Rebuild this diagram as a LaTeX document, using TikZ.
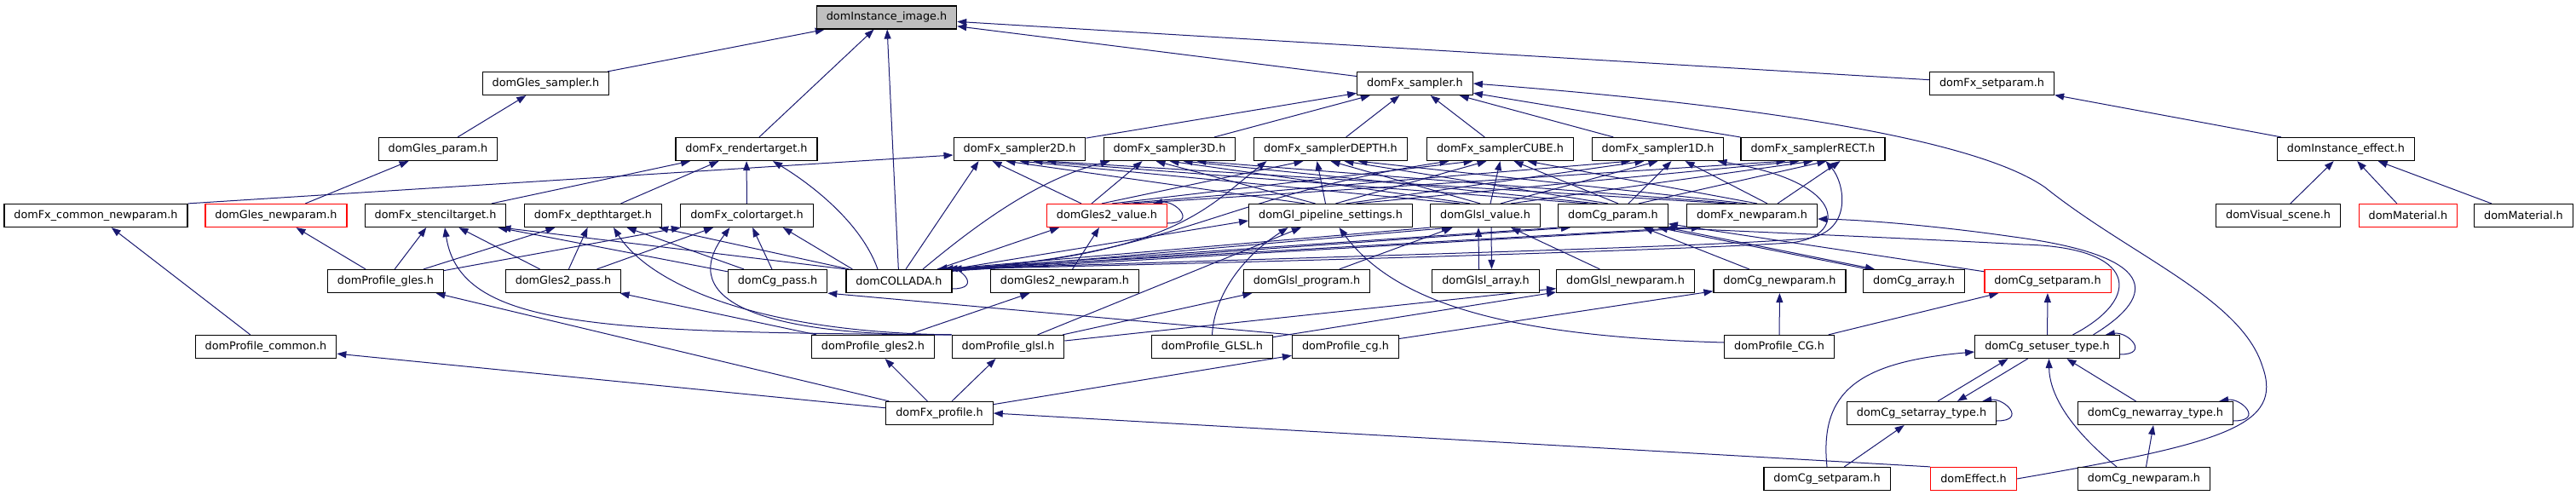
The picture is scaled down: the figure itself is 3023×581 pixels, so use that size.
\documentclass[tikz,border=0pt]{standalone}
\usepackage{fontspec}
\setmainfont{DejaVu Sans}
\usepackage{xcolor}
\usepackage{tikz}
\usetikzlibrary{positioning, arrows.meta, backgrounds}
\definecolor{edgeblue}{HTML}{191970}
\definecolor{selgray}{HTML}{BFBFBF}
\newcommand{\selfloop}[1]{%
  \draw[dep] ([yshift=-9pt]#1.east) .. controls +(36pt,0pt) and +(26pt,4pt) .. ([xshift=-17pt]#1.north east);}

\begin{document}
\begin{tikzpicture}[
    x=1pt, y=-1pt,
    file/.style={draw, line width=1.2pt, fill=white, minimum height=27pt, inner xsep=11.5pt, inner ysep=0pt, font=\fontsize{12.8pt}{15pt}\selectfont},
    trunc/.style={file, draw=red},
    sel/.style={file, fill=selgray},
    dep/.style={draw=edgeblue, line width=1pt, -{Triangle[length=11pt,width=8pt]}}
]
\useasboundingbox (0,0) rectangle (3023,581);

\node[sel] (I) at (1040.5,20.5) {domInstance\_image.h};

\node[file] (GS) at (640.5,98) {domGles\_sampler.h};
\node[file] (FS) at (1660.5,98) {domFx\_sampler.h};
\node[file] (SETP) at (2337.5,98) {domFx\_setparam.h};

\node[file] (GPAR) at (514,175) {domGles\_param.h};
\node[file] (R) at (876,175) {domFx\_rendertarget.h};
\node[file] (S2D) at (1196.5,175) {domFx\_sampler2D.h};
\node[file] (S3D) at (1372.5,175) {domFx\_sampler3D.h};
\node[file] (SDEPTH) at (1561.5,175) {domFx\_samplerDEPTH.h};
\node[file] (SCUBE) at (1760.5,175) {domFx\_samplerCUBE.h};
\node[file] (S1D) at (1945.5,175) {domFx\_sampler1D.h};
\node[file] (SRECT) at (2127.5,175) {domFx\_samplerRECT.h};
\node[file] (IEFF) at (2753,175) {domInstance\_effect.h};

\node[file] (FCN) at (112.5,253) {domFx\_common\_newparam.h};
\node[trunc] (GNP) at (324,253) {domGles\_newparam.h};
\node[file] (ST) at (511,253) {domFx\_stenciltarget.h};
\node[file] (DT) at (696,253) {domFx\_depthtarget.h};
\node[file] (CT) at (876.5,253) {domFx\_colortarget.h};
\node[trunc] (V2) at (1299,253) {domGles2\_value.h};
\node[file] (GP) at (1561.5,253) {domGl\_pipeline\_settings.h};
\node[file] (GV) at (1743,253) {domGlsl\_value.h};
\node[file] (CP) at (1893,253) {domCg\_param.h};
\node[file] (FN) at (2056,253) {domFx\_newparam.h};
\node[file] (VS) at (2673.5,253) {domVisual\_scene.h};
\node[trunc] (MATR) at (2826,253) {domMaterial.h};
\node[file] (MAT) at (2961.5,253) {domMaterial.h};

\node[file] (PGLES) at (452.5,330) {domProfile\_gles.h};
\node[file] (G2P) at (661,330) {domGles2\_pass.h};
\node[file] (CGP) at (912.5,330) {domCg\_pass.h};
\node[file] (COL) at (1055,330) {domCOLLADA.h};
\node[file] (G2NP) at (1249.5,330) {domGles2\_newparam.h};
\node[file] (GLP) at (1533.5,330) {domGlsl\_program.h};
\node[file] (GLA) at (1743.5,330) {domGlsl\_array.h};
\node[file] (GLNP) at (1907.5,330) {domGlsl\_newparam.h};
\node[file] (CNP) at (2088.5,330) {domCg\_newparam.h};
\node[file] (CA) at (2246,330) {domCg\_array.h};
\node[trunc] (CSPR) at (2403,330) {domCg\_setparam.h};

\node[file] (PCOM) at (312,407) {domProfile\_common.h};
\node[file] (PG2) at (1024.5,407) {domProfile\_gles2.h};
\node[file] (PGL) at (1183,407) {domProfile\_glsl.h};
\node[file] (PGLSL) at (1422.5,407) {domProfile\_GLSL.h};
\node[file] (PCG) at (1579,407) {domProfile\_cg.h};
\node[file] (PCGU) at (2088,407) {domProfile\_CG.h};
\node[file] (SUT) at (2402.5,407) {domCg\_setuser\_type.h};

\node[file] (FP) at (1102.5,485) {domFx\_profile.h};
\node[file] (SAT) at (2255,485) {domCg\_setarray\_type.h};
\node[file] (NAT) at (2529.5,485) {domCg\_newarray\_type.h};

\node[file] (CSP) at (2144,562) {domCg\_setparam.h};
\node[trunc] (EFF) at (2316,562) {domEffect.h};
\node[file] (CNP2) at (2516,562) {domCg\_newparam.h};

\begin{pgfonlayer}{background}
\foreach \a/\b in {GS/I, FS/I, SETP/I, R/I, COL/I, GPAR/GS, GNP/GPAR, PGLES/GNP, PCOM/FCN,
    S2D/FS, S3D/FS, SDEPTH/FS, SCUBE/FS, S1D/FS, SRECT/FS, IEFF/SETP, VS/IEFF, MATR/IEFF, MAT/IEFF,
    ST/R, DT/R, CT/R, PGLES/ST, PGLES/DT, PGLES/CT, G2P/ST, G2P/DT, G2P/CT, CGP/ST, CGP/DT, CGP/CT,
    G2NP/V2, GLP/GV, GLNP/GV, CNP/CP, CSPR/CP, SUT/CSPR, PCGU/CNP, PCGU/CSPR, PCG/CNP,
    PGL/GLP, PGL/GP, PGL/GLNP, PGLSL/GLNP, PG2/G2NP, PG2/G2P,
    FP/PG2, FP/PGL, FP/PGLES, FP/PCOM, FP/PCG, NAT/SUT, CNP2/NAT, CSP/SAT}
  \draw[dep] (\a) -- (\b);

\foreach \src [count=\i] in {V2,GP,GV,CP,FN}
  \foreach \dst [count=\j] in {S2D,S3D,SDEPTH,SCUBE,S1D,SRECT}
    \draw[dep] ([xshift={(\j-3.5)*12pt}]\src.north) -- ([xshift={(\i-3)*16pt}]\dst.south);

\draw[dep] (FCN.north east) -- ([yshift=-7pt]S2D.west);
\draw[dep] ([xshift=-25pt]COL.north) .. controls (1010,260) and (950,215) .. ([xshift=31pt]R.south);
\draw[dep] (COL.north west) -- ([xshift=-6pt]ST.south east);
\draw[dep] ([xshift=4pt]COL.north west) -- ([xshift=-4pt]DT.south east);
\draw[dep] ([xshift=8pt]COL.north west) -- ([xshift=-36pt]CT.south east);
\draw[dep] ([xshift=8pt]COL.north) -- ([xshift=-48pt]S2D.south);
\draw[dep] ([xshift=28pt]COL.north) .. controls (1150,260) and (1220,210) .. ([xshift=-70pt]S3D.south);
\draw[dep] ([xshift=45pt]COL.north) -- ([xshift=-56pt]V2.south);
\draw[dep] (COL.north east) -- ([yshift=-6pt]GP.west);
\draw[dep] ([yshift=-2pt]COL.north east) -- ([xshift=-40pt]GV.south);
\draw[dep] ([yshift=-2pt]COL.north east) -- ([xshift=-50pt]CP.south);
\draw[dep] ([yshift=-2pt]COL.north east) -- ([xshift=-60pt]FN.south);
\draw[dep] (COL.north east) .. controls (1380,300) and (1420,240) .. ([xshift=-75pt]SDEPTH.south);
\draw[dep] (COL.north east) .. controls (1380,300) and (1430,230) .. ([xshift=-60pt]SCUBE.south);
\draw[dep] (COL.north east) .. controls (1600,305) and (2000,292) .. (2100,285)
    .. controls (2165,280) and (2175,215) .. ([xshift=-8pt]S1D.south east);
\draw[dep] (COL.north east) .. controls (1600,300) and (2000,290) .. (2120,280)
    .. controls (2175,272) and (2165,215) .. ([xshift=15pt]SRECT.south);
\draw[dep] (GV.south west) -- ([xshift=-10pt]COL.north east);
\draw[dep] (CP.south west) -- ([xshift=-5pt]COL.north east);
\draw[dep] (FN.south west) -- (COL.north east);

\draw[dep] ([xshift=-8pt]GLA.north) -- ([xshift=-8pt]GV.south);
\draw[dep] ([xshift=7pt]GV.south) -- ([xshift=7pt]GLA.north);
\draw[dep] ([xshift=6pt]CA.north west) -- ([xshift=-12pt]CP.south east);
\draw[dep] ([xshift=-2pt]CP.south east) -- ([xshift=14pt]CA.north west);

\draw[dep] (PGL.north west) .. controls (700,390) and (540,385) .. ([xshift=11pt]ST.south);
\draw[dep] (PGL.north west) .. controls (880,390) and (760,330) .. ([xshift=24pt]DT.south);
\draw[dep] (PGL.north west) .. controls (900,395) and (790,355) .. ([xshift=-20pt]CT.south);
\draw[dep] (PGLSL.north) .. controls (1425,345) and (1460,300) .. ([xshift=-50pt]GP.south);
\draw[dep] ([yshift=5pt]PCGU.west) .. controls (1780,395) and (1640,360) .. ([xshift=10pt]GP.south);
\draw[dep] (PCG.north west) -- (CGP.south east);
\draw[dep] (EFF.north west) -- (FP.east);
\draw[dep] (EFF.east) .. controls (2610,520) and (2680,500) .. (2655,430)
    .. controls (2630,350) and (2500,300) .. (2400,220)
    .. controls (2300,150) and (1950,115) .. (FS.east);

\draw[dep] ([xshift=30pt]SUT.north) .. controls (2515,350) and (2510,290) .. (2374,287)
    .. controls (2250,280) and (2050,272) .. ([xshift=-3pt]CP.south east);
\draw[dep] ([xshift=54pt]SUT.north) .. controls (2535,345) and (2530,300) .. (2363,278)
    .. controls (2280,266) and (2190,258) .. ([yshift=-4pt]FN.east);
\draw[dep] ([xshift=19pt]SAT.north) -- ([xshift=-46pt]SUT.south);
\draw[dep] ([xshift=-23pt]SUT.south) -- ([xshift=42pt]SAT.north);
\draw[dep] (CSP.north) .. controls (2135,460) and (2180,425) .. ([yshift=-6pt]SUT.west);
\draw[dep] ([xshift=-32pt]CNP2.north) .. controls (2425,500) and (2405,460) .. ([xshift=2pt]SUT.south);

\selfloop{V2}
\selfloop{COL}
\selfloop{SUT}
\selfloop{SAT}
\selfloop{NAT}
\end{pgfonlayer}
\end{tikzpicture}
\end{document}
